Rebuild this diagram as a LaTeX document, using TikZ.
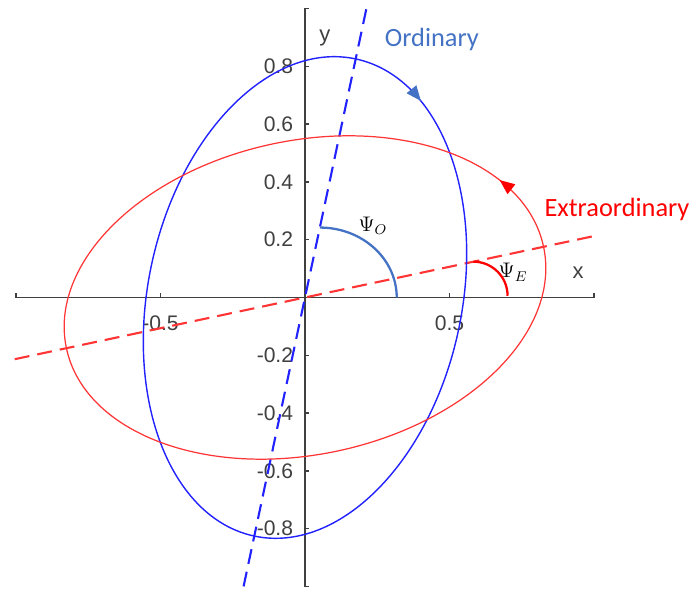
\documentclass[tikz,border=0pt]{standalone}
\usepackage[no-math]{fontspec}
\setmainfont{Liberation Sans}
\newfontfamily\calibri{Carlito}
\usepackage{tikz}
\usetikzlibrary{arrows.meta, decorations.markings}
\definecolor{AxisGray}{HTML}{404040}
\definecolor{OrdBlue}{HTML}{4472C4}
\definecolor{BeamBlue}{HTML}{2222FF}
\definecolor{BeamRed}{HTML}{FF3535}

\begin{document}
\begin{tikzpicture}[
  x=5.78cm, y=5.78cm,
  axis/.style={AxisGray, line width=0.8pt},
  ticklabel/.style={font=\fontsize{12}{14}\selectfont, text=AxisGray, inner sep=0pt},
  axislabel/.style={font=\fontsize{12.5}{14}\selectfont, text=AxisGray, inner sep=0pt},
  beamlabel/.style={font=\calibri\fontsize{15}{18}\selectfont, inner sep=0pt, anchor=base},
  anglelabel/.style={font=\fontsize{12}{14}\selectfont, inner sep=0pt, anchor=base},
  dashaxis/.style={line width=1.2pt, dash pattern=on 0.3cm off 0.16cm},
]
  \useasboundingbox (-1.0554,-1.0121) rectangle (1.3426,1.0294);
  \coordinate (O) at (0,0);

  % Axes
  \draw[axis] (-1,0.014) -- (-1,0) -- (1,0) -- (1,0.014);
  \draw[axis] (0.014,1) -- (0,1) -- (0,-1) -- (0.014,-1);
  \foreach \x [count=\i] in {-0.5,0.5} {
    \draw[axis] (\x,0) -- (\x,0.014);
    \node[ticklabel] (xtick\i) at (\x,-0.088) {\x};
  }
  \foreach \y [count=\i] in {0.8,0.6,0.4,0.2,-0.2,-0.4,-0.6,-0.8} {
    \draw[axis] (0,\y) -- (0.014,\y);
    \node[ticklabel, anchor=east] (ytick\i) at (-0.04,\y) {\y};
  }
  \node[axislabel] (xlab) at (0.945,0.085) {x};
  \node[axislabel] (ylab) at (0.069,0.898) {y};

  % Optic axes
  \draw[dashaxis, BeamBlue] (258:1.022) -- (78:1.022);
  \draw[dashaxis, BeamRed] (192:1.027) -- (12:1.027);

  % Ordinary beam
  \draw[BeamBlue, line width=0.8pt, rotate=78, postaction={decorate},
    decoration={markings, mark=at position 0.938 with
      {\arrowreversed{Triangle[length=8.5pt, width=7pt, color=OrdBlue]}}}]
    (O) ellipse [x radius=0.844, y radius=0.543];
  \node[beamlabel, text=OrdBlue] (ord) at (0.439,0.867) {Ordinary};

  % Extraordinary beam
  \draw[BeamRed, line width=0.7pt, rotate=12, postaction={decorate},
    decoration={markings, mark=at position 0.064 with
      {\arrow{Triangle[length=8.5pt, width=7pt, color=red]}}}]
    (O) ellipse [x radius=0.844, y radius=0.543];
  \node[beamlabel, text=red] (extra) at (1.0796,0.2796) {Extraordinary};

  % Angles
  \draw[OrdBlue, line width=1.3pt] (0.0514,0.242) arc [start angle=90, end angle=0, x radius=0.266, y radius=0.242];
  \node[anglelabel] (psio) at (0.235,0.228) {$\Psi_O$};
  \draw[red, line width=1.3pt] (0.583,0.124) arc [start angle=90, end angle=0, radius=0.118];
  \node[anglelabel] (psie) at (0.72,0.0675) {$\Psi_E$};
\end{tikzpicture}
\end{document}
